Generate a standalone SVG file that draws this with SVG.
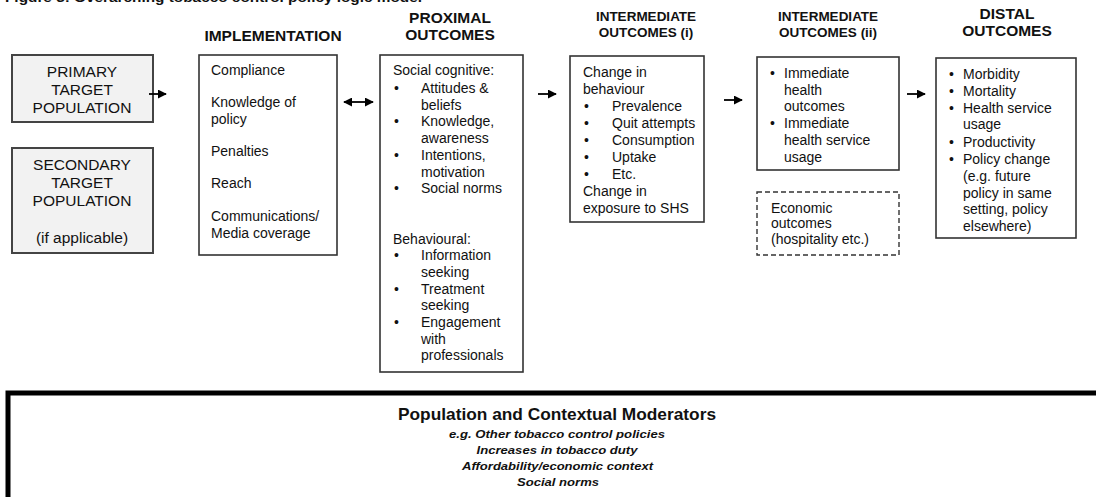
<svg xmlns="http://www.w3.org/2000/svg" width="1096" height="497" viewBox="0 0 1096 497">
<style>
text{font-family:"Liberation Sans",Arial,sans-serif;fill:#111}
.h{font-size:15.5px;font-weight:bold;text-anchor:middle}
.hs{font-size:13.5px;font-weight:bold;text-anchor:middle}
.t{font-size:14px}
.tp{font-size:15.5px;text-anchor:middle}
.s{font-size:14px}
.box{fill:#fff;stroke:#333;stroke-width:1.6}
.gbox{fill:#f2f2f2;stroke:#444;stroke-width:2}
.dash{fill:#fff;stroke:#333;stroke-width:1.4;stroke-dasharray:5 3}
.conn{stroke:#000;stroke-width:1.8;fill:none}
.mt{font-size:17px;font-weight:bold;text-anchor:middle}
.mi{font-size:11.5px;font-weight:bold;font-style:italic;text-anchor:middle}
</style>
<defs>
<marker id="ah" viewBox="0 0 10 10" refX="9" refY="5" markerWidth="5" markerHeight="5" orient="auto-start-reverse" markerUnits="strokeWidth">
<path d="M0,0 L10,5 L0,10 Z" fill="#000"/>
</marker>
</defs>
<rect width="1096" height="497" fill="#fff"/>
<text x="5" y="1.5" font-size="13" font-weight="bold" textLength="417" lengthAdjust="spacingAndGlyphs">Figure 3: Overarching tobacco control policy logic model</text>

<g id="headers">
<text class="h" x="273" y="41">IMPLEMENTATION</text>
<text class="h" x="450" y="23">PROXIMAL</text>
<text class="h" x="450" y="40">OUTCOMES</text>
<text class="hs" x="646" y="21">INTERMEDIATE</text>
<text class="hs" x="646" y="37">OUTCOMES (i)</text>
<text class="hs" x="828" y="21">INTERMEDIATE</text>
<text class="hs" x="828" y="37">OUTCOMES (ii)</text>
<text class="h" x="1007" y="19">DISTAL</text>
<text class="h" x="1007" y="36">OUTCOMES</text>
</g>

<g id="primary">
<rect class="gbox" x="12" y="55" width="141" height="67"/>
<text class="tp" x="82" y="77">PRIMARY</text>
<text class="tp" x="82" y="95">TARGET</text>
<text class="tp" x="82" y="113">POPULATION</text>
</g>

<g id="secondary">
<rect class="gbox" x="12" y="148" width="141" height="105"/>
<text class="tp" x="82" y="170">SECONDARY</text>
<text class="tp" x="82" y="188">TARGET</text>
<text class="tp" x="82" y="206">POPULATION</text>
<text class="tp" x="82" y="243">(if applicable)</text>
</g>

<g id="implementation">
<rect class="box" x="199" y="55" width="138" height="200"/>
<text class="t" x="211" y="75">Compliance</text>
<text class="t" x="211" y="107">Knowledge of</text>
<text class="t" x="211" y="124">policy</text>
<text class="t" x="211" y="156">Penalties</text>
<text class="t" x="211" y="188">Reach</text>
<text class="t" x="211" y="221">Communications/</text>
<text class="t" x="211" y="238">Media coverage</text>
</g>

<g id="proximal">
<rect class="box" x="380" y="55" width="143" height="317"/>
<text class="t" x="393" y="75">Social cognitive:</text>
<text class="t" x="394" y="92.5">•</text><text class="t" x="421" y="92.5">Attitudes &amp;</text>
<text class="t" x="421" y="109.5">beliefs</text>
<text class="t" x="394" y="126">•</text><text class="t" x="421" y="126">Knowledge,</text>
<text class="t" x="421" y="143">awareness</text>
<text class="t" x="394" y="160">•</text><text class="t" x="421" y="160">Intentions,</text>
<text class="t" x="421" y="176.5">motivation</text>
<text class="t" x="394" y="193">•</text><text class="t" x="421" y="193">Social norms</text>
<text class="t" x="393" y="243.5">Behavioural:</text>
<text class="t" x="394" y="260">•</text><text class="t" x="421" y="260">Information</text>
<text class="t" x="421" y="277">seeking</text>
<text class="t" x="394" y="293.5">•</text><text class="t" x="421" y="293.5">Treatment</text>
<text class="t" x="421" y="310">seeking</text>
<text class="t" x="394" y="327">•</text><text class="t" x="421" y="327">Engagement</text>
<text class="t" x="421" y="343.5">with</text>
<text class="t" x="421" y="360">professionals</text>
</g>

<g id="intermediate1">
<rect class="box" x="570" y="56" width="134" height="166"/>
<text class="t" x="583" y="77">Change in</text>
<text class="t" x="583" y="94">behaviour</text>
<text class="t" x="584" y="111">•</text><text class="t" x="612" y="111">Prevalence</text>
<text class="t" x="584" y="128">•</text><text class="t" x="612" y="128">Quit attempts</text>
<text class="t" x="584" y="145">•</text><text class="t" x="612" y="145">Consumption</text>
<text class="t" x="584" y="162">•</text><text class="t" x="612" y="162">Uptake</text>
<text class="t" x="584" y="179">•</text><text class="t" x="612" y="179">Etc.</text>
<text class="t" x="583" y="196">Change in</text>
<text class="t" x="583" y="213">exposure to SHS</text>
</g>

<g id="intermediate2">
<rect class="box" x="757" y="57" width="142" height="113"/>
<text class="t" x="770" y="78">•</text><text class="t" x="784" y="78">Immediate</text>
<text class="t" x="784" y="94.5">health</text>
<text class="t" x="784" y="111">outcomes</text>
<text class="t" x="770" y="128">•</text><text class="t" x="784" y="128">Immediate</text>
<text class="t" x="784" y="145">health service</text>
<text class="t" x="784" y="161.5">usage</text>
</g>

<g id="economic">
<rect class="dash" x="757" y="192" width="142" height="63"/>
<text class="s" x="771" y="212.5">Economic</text>
<text class="s" x="771" y="228">outcomes</text>
<text class="s" x="771" y="244">(hospitality etc.)</text>
</g>

<g id="distal">
<rect class="box" x="936" y="58" width="140" height="180"/>
<text class="t" x="949" y="78.5">•</text><text class="t" x="963" y="78.5">Morbidity</text>
<text class="t" x="949" y="95.5">•</text><text class="t" x="963" y="95.5">Mortality</text>
<text class="t" x="949" y="112.5">•</text><text class="t" x="963" y="112.5">Health service</text>
<text class="t" x="963" y="129">usage</text>
<text class="t" x="949" y="147">•</text><text class="t" x="963" y="147">Productivity</text>
<text class="t" x="949" y="164">•</text><text class="t" x="963" y="164">Policy change</text>
<text class="t" x="963" y="181">(e.g. future</text>
<text class="t" x="963" y="197.5">policy in same</text>
<text class="t" x="963" y="214">setting, policy</text>
<text class="t" x="963" y="230.5">elsewhere)</text>
</g>

<g id="moderators">
<rect x="8" y="393" width="1100" height="112" fill="#fff" stroke="#000" stroke-width="5"/>
<text class="mt" x="557" y="420" textLength="318" lengthAdjust="spacingAndGlyphs">Population and Contextual Moderators</text>
<text class="mi" x="557" y="438" textLength="216" lengthAdjust="spacingAndGlyphs">e.g. Other tobacco control policies</text>
<text class="mi" x="557" y="454" textLength="161" lengthAdjust="spacingAndGlyphs">Increases in tobacco duty</text>
<text class="mi" x="557.5" y="470" textLength="191" lengthAdjust="spacingAndGlyphs">Affordability/economic context</text>
<text class="mi" x="558" y="486" textLength="82" lengthAdjust="spacingAndGlyphs">Social norms</text>
</g>

<g id="connectors">
<line class="conn" x1="149" y1="94" x2="166" y2="94" marker-end="url(#ah)"/>
<line class="conn" x1="344" y1="102" x2="373" y2="102" marker-start="url(#ah)" marker-end="url(#ah)"/>
<line class="conn" x1="538" y1="94" x2="556" y2="94" marker-end="url(#ah)"/>
<line class="conn" x1="724" y1="100" x2="742" y2="100" marker-end="url(#ah)"/>
<line class="conn" x1="907" y1="94" x2="925" y2="94" marker-end="url(#ah)"/>
</g>
</svg>
